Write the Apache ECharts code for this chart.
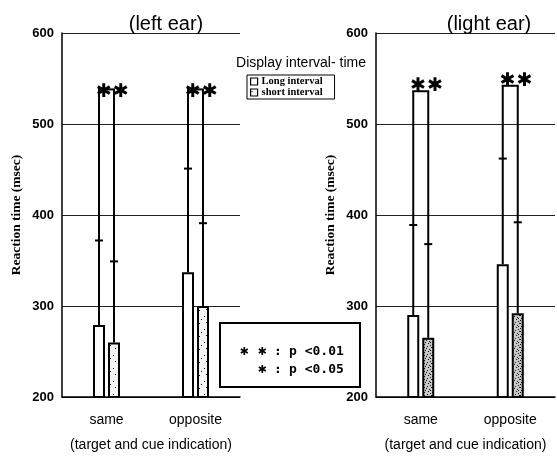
<!DOCTYPE html>
<html>
<head>
<meta charset="utf-8">
<script src="https://cdn.jsdelivr.net/npm/echarts@6/dist/echarts.min.js"></script>
<style>html,body{margin:0;padding:0;background:#fff;}#c{width:557px;height:457px;}</style>
</head>
<body>
<div id="c"></div>
<script>
// ---- data ----
const categories = ['same', 'opposite'];
const yTicks = [200, 300, 400, 500, 600];
const leftLong = [279, 337];
const leftShort = [260, 300];
const leftLongErr = [372, 451];
const leftShortErr = [349, 391];
const leftBracket = [538, 538];
const rightLong = [290, 346];
const rightShort = [265, 292];
const rightLongErr = [389, 462];
const rightShortErr = [368, 392];
const rightBracket = [536, 542];
const sigCount = [2, 2];

// ---- stipple patterns ----
function makePattern(bg, dots, size) {
  const cv = document.createElement('canvas');
  cv.width = size; cv.height = size;
  const ctx = cv.getContext('2d');
  ctx.fillStyle = bg; ctx.fillRect(0, 0, size, size);
  ctx.fillStyle = '#111';
  dots.forEach(d => ctx.fillRect(d[0], d[1], 1, 1));
  return { image: cv, repeat: 'repeat' };
}
const lightStipple = makePattern('#f4f4f4', [[1,2],[6,7],[4,11],[9,4],[11,10],[2,8]], 13);
const darkStipple = makePattern('#c8c8c8', [[0,0],[3,2],[5,5],[1,6],[6,1],[4,7],[2,4],[7,3],[6,6],[0,3]], 8);

const chart = echarts.init(document.getElementById('c'), null, { renderer: 'canvas' });

const fontSans = 'Liberation Sans';
const fontSerif = 'Liberation Serif';
const STAR = '\u2731';

function yAxis(gridIndex) {
  return {
    type: 'value', gridIndex, min: yTicks[0], max: yTicks[yTicks.length - 1], interval: 100,
    name: 'Reaction time (msec)', nameLocation: 'middle', nameGap: 38, nameRotate: 90,
    nameTextStyle: { fontFamily: fontSerif, fontWeight: 'bold', fontSize: 13.5, color: '#000' },
    axisLine: { show: true, lineStyle: { color: '#000', width: 1.5 } },
    axisTick: { show: false },
    axisLabel: { color: '#000', fontFamily: fontSans, fontWeight: 'bold', fontSize: 13, margin: 8 },
    splitLine: { show: true, lineStyle: { color: '#222', width: 1 } }
  };
}
function xAxis(gridIndex) {
  return {
    type: 'category', gridIndex, data: categories,
    name: '(target and cue indication)', nameLocation: 'middle', nameGap: 41,
    nameTextStyle: { fontFamily: fontSans, fontSize: 14, color: '#000' },
    axisLine: { show: true, lineStyle: { color: '#000', width: 1.5 } },
    axisTick: { show: false },
    axisLabel: { color: '#000', fontFamily: fontSans, fontSize: 14, margin: 16 }
  };
}

function barSeries(name, data, gi, fill) {
  return {
    type: 'bar', name, data, xAxisIndex: gi, yAxisIndex: gi,
    barWidth: 12, barGap: '25%',
    itemStyle: { color: fill, borderColor: '#000', borderWidth: 2 },
    emphasis: { disabled: true }, z: 2
  };
}

function errSeries(gi, longV, shortV, longE, shortE, bracket, starDy) {
  const data = categories.map((c, i) => [i, longV[i], shortV[i], longE[i], shortE[i], bracket[i], sigCount[i]]);
  return {
    type: 'custom', xAxisIndex: gi, yAxisIndex: gi, data, z: 5, silent: true,
    renderItem: function (params, api) {
      const i = api.value(0);
      const off = 7.5, cap = 4;
      const pLt = api.coord([i, api.value(1)]);
      const pSt = api.coord([i, api.value(2)]);
      const pLe = api.coord([i, api.value(3)]);
      const pSe = api.coord([i, api.value(4)]);
      const pB = api.coord([i, api.value(5)]);
      const n = api.value(6);
      const xL = pLt[0] - off, xS = pLt[0] + off;
      const ls = { stroke: '#000', lineWidth: 2 };
      const children = [
        { type: 'line', shape: { x1: xL, y1: pLt[1], x2: xL, y2: pB[1] }, style: ls },
        { type: 'line', shape: { x1: xS, y1: pSt[1], x2: xS, y2: pB[1] }, style: ls },
        { type: 'line', shape: { x1: xL - cap, y1: pLe[1], x2: xL + cap, y2: pLe[1] }, style: ls },
        { type: 'line', shape: { x1: xS - cap, y1: pSe[1], x2: xS + cap, y2: pSe[1] }, style: ls },
        { type: 'line', shape: { x1: xL - 1, y1: pB[1], x2: xS + 1, y2: pB[1] }, style: ls }
      ];
      const cx = (xL + xS) / 2 + 6;
      for (let k = 0; k < n; k++) {
        children.push({ type: 'text', x: cx + (k - (n - 1) / 2) * 17, y: pB[1] + starDy,
          style: { text: STAR, fill: '#000', align: 'center', verticalAlign: 'middle',
            font: 'bold 19px "DejaVu Sans"' } });
      }
      return { type: 'group', children };
    }
  };
}

function pText(x, y, text, align, font) {
  return { type: 'text', x, y, z: 11,
    style: { text, fill: '#000', align, verticalAlign: 'middle', font } };
}

const option = {
  backgroundColor: '#fff',
  animation: false,
  title: [
    { text: '(left ear)', left: 161, top: 9, textAlign: 'center',
      textStyle: { fontFamily: fontSans, fontWeight: 'normal', fontSize: 20, color: '#000' } },
    { text: '(light ear)', left: 484, top: 9, textAlign: 'center',
      textStyle: { fontFamily: fontSans, fontWeight: 'normal', fontSize: 20, color: '#000' } },
    { text: 'Display interval- time', left: 296, top: 51, textAlign: 'center',
      textStyle: { fontFamily: fontSans, fontWeight: 'normal', fontSize: 14, color: '#000' } }
  ],
  legend: {
    orient: 'vertical', left: 247, top: 75, width: 90,
    data: ['Long interval', 'short interval'],
    icon: 'rect', itemWidth: 7, itemHeight: 7, itemGap: 0,
    padding: [1, 12, 1, 3],
    borderColor: '#000', borderWidth: 1, backgroundColor: '#fff',
    itemStyle: { borderWidth: 1.2, borderColor: '#000' },
    textStyle: { fontFamily: fontSerif, fontWeight: 'bold', fontSize: 10.5, lineHeight: 10, color: '#000', padding: [0, 0, 0, -1] },
    selectedMode: false
  },
  grid: [
    { left: 62, top: 33, width: 178, height: 366 },
    { left: 376, top: 33, width: 179, height: 366 }
  ],
  xAxis: [xAxis(0), xAxis(1)],
  yAxis: [yAxis(0), yAxis(1)],
  series: [
    barSeries('Long interval', leftLong, 0, '#fff'),
    barSeries('short interval', leftShort, 0, lightStipple),
    barSeries('Long interval', rightLong, 1, '#fff'),
    barSeries('short interval', rightShort, 1, darkStipple),
    errSeries(0, leftLong, leftShort, leftLongErr, leftShortErr, leftBracket, 3),
    errSeries(1, rightLong, rightShort, rightLongErr, rightShortErr, rightBracket, -5)
  ],
  graphic: [
    { type: 'rect', shape: { x: 220, y: 323, width: 140, height: 64 },
      style: { fill: '#fff', stroke: '#000', lineWidth: 2 }, z: 10 },
    pText(244, 352, STAR, 'center', 'bold 11px "DejaVu Sans"'),
    pText(262, 352, STAR, 'center', 'bold 11px "DejaVu Sans"'),
    pText(262, 370, STAR, 'center', 'bold 11px "DejaVu Sans"'),
    pText(278, 352, ':', 'center', 'bold 13px "DejaVu Sans Mono"'),
    pText(278, 370, ':', 'center', 'bold 13px "DejaVu Sans Mono"'),
    pText(289, 352, 'p <0.01', 'left', 'bold 13px "DejaVu Sans Mono"'),
    pText(289, 370, 'p <0.05', 'left', 'bold 13px "DejaVu Sans Mono"')
  ]
};
chart.setOption(option);
</script>
</body>
</html>
